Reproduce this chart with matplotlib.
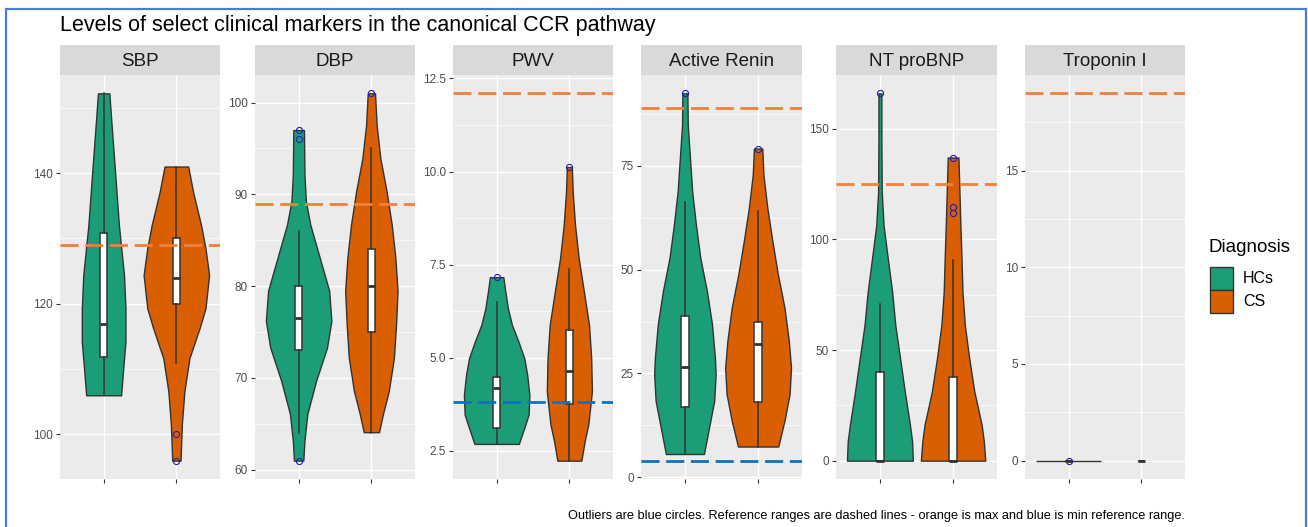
import matplotlib
matplotlib.use("Agg")
import matplotlib.pyplot as plt
from matplotlib.patches import Rectangle
from matplotlib.ticker import MultipleLocator
import numpy as np

plt.rcParams['font.family'] = ['Liberation Sans', 'DejaVu Sans']

title = "Levels of select clinical markers in the canonical CCR pathway"
caption = ("Outliers are blue circles. Reference ranges are dashed lines - "
           "orange is max and blue is min reference range.")
markers = ["SBP", "DBP", "PWV", "Active Renin", "NT proBNP", "Troponin I"]
groups = ["HCs", "CS"]
group_colors = ["#1B9E77", "#D95F02"]

# violin outlines: value, half width (in x units)
sbp_hc_y = [152.2, 147.3, 139.7, 132.0, 124.4, 119.3, 114.2, 110.2, 106.0]
sbp_hc_w = [0.078, 0.11, 0.16, 0.21, 0.28, 0.30, 0.30, 0.27, 0.24]
sbp_cs_y = [141.0, 137.1, 132.0, 128.5, 124.4, 119.3, 116.3, 111.7, 106.6, 101.5, 96.0]
sbp_cs_w = [0.163, 0.23, 0.34, 0.40, 0.45, 0.40, 0.32, 0.18, 0.11, 0.075, 0.057]

dbp_hc_y = [97.0, 92.1, 89.2, 86.7, 83.1, 79.5, 76.2, 73.3, 69.7, 66.1, 63.2, 61.0]
dbp_hc_w = [0.073, 0.08, 0.10, 0.16, 0.29, 0.42, 0.45, 0.39, 0.24, 0.12, 0.08, 0.064]
dbp_cs_y = [101.0, 97.5, 93.9, 90.3, 86.7, 83.1, 79.5, 75.9, 72.2, 68.6, 66.1, 64.1]
dbp_cs_w = [0.05, 0.073, 0.124, 0.21, 0.28, 0.33, 0.36, 0.34, 0.31, 0.24, 0.16, 0.105]

pwv_hc_y = [7.16, 6.77, 6.33, 5.88, 5.43, 4.98, 4.54, 4.00, 3.47, 3.11, 2.68]
pwv_hc_w = [0.092, 0.12, 0.154, 0.21, 0.30, 0.38, 0.42, 0.45, 0.44, 0.38, 0.305]
pwv_cs_y = [10.12, 9.45, 8.56, 7.67, 6.77, 5.88, 4.99, 4.09, 3.20, 2.75, 2.23]
pwv_cs_w = [0.034, 0.046, 0.078, 0.128, 0.20, 0.27, 0.30, 0.31, 0.26, 0.21, 0.165]

renin_hc_y = [92.5, 84.9, 76.9, 68.9, 60.9, 52.9, 44.9, 36.9, 28.8, 24.8, 18.4, 12.0, 5.6]
renin_hc_w = [0.034, 0.039, 0.069, 0.099, 0.15, 0.21, 0.30, 0.37, 0.41, 0.42, 0.40, 0.33, 0.26]
renin_cs_y = [79.2, 72.9, 64.9, 56.9, 48.9, 40.9, 32.8, 26.4, 20.0, 13.6, 7.4]
renin_cs_w = [0.057, 0.073, 0.126, 0.195, 0.27, 0.36, 0.42, 0.45, 0.43, 0.36, 0.275]

bnp_hc_y = [166.0, 143.8, 121.3, 106.3, 91.3, 76.3, 61.3, 46.3, 31.2, 16.2, 8.7, 0.0]
bnp_hc_w = [0.02, 0.02, 0.025, 0.05, 0.108, 0.167, 0.21, 0.275, 0.34, 0.41, 0.44, 0.45]
bnp_cs_y = [137.0, 121.3, 106.3, 91.3, 76.3, 61.3, 46.3, 31.2, 16.2, 8.7, 0.0]
bnp_cs_w = [0.073, 0.087, 0.10, 0.115, 0.128, 0.16, 0.22, 0.29, 0.39, 0.42, 0.44]

trop_hc_y = [0.0, 0.0]
trop_hc_w = [0.45, 0.45]
trop_cs_y = []
trop_cs_w = []

# box stats per group: q1, median, q3, lower whisker, upper whisker
sbp_box = [[111.9, 116.9, 130.9, 106.0, 152.2], [120.0, 124.0, 130.1, 111.0, 141.0]]
dbp_box = [[73.0, 76.5, 80.0, 64.0, 86.0], [75.0, 80.0, 84.0, 64.0, 95.0]]
pwv_box = [[3.12, 4.18, 4.49, 2.68, 6.5], [3.75, 4.64, 5.74, 2.23, 7.37]]
renin_box = [[17.0, 26.6, 38.8, 5.6, 66.3], [18.2, 32.2, 37.3, 7.4, 64.2]]
bnp_box = [[0.0, 0.0, 40.0, 0.0, 70.7], [0.0, 0.0, 37.7, 0.0, 90.5]]
trop_box = [[0.0, 0.0, 0.0, 0.0, 0.0], [0.0, 0.0, 0.0, 0.0, 0.0]]

# outliers per group
sbp_out = [[], [100.0, 96.0]]
dbp_out = [[97.0, 96.0, 61.0], [101.0]]
pwv_out = [[7.17], [10.12]]
renin_out = [[92.5], [79.2]]
bnp_out = [[166.0], [137.0, 114.5, 112.0]]
trop_out = [[0.0], []]

# reference ranges
ref_max = [129, 89, 12.1, 89, 125, 19]
ref_min = [None, None, 3.8, 4, None, None]
tick_step = [20, 10, 2.5, 25, 50, 5]

violin_y = [(sbp_hc_y, sbp_cs_y), (dbp_hc_y, dbp_cs_y), (pwv_hc_y, pwv_cs_y),
            (renin_hc_y, renin_cs_y), (bnp_hc_y, bnp_cs_y), (trop_hc_y, trop_cs_y)]
violin_w = [(sbp_hc_w, sbp_cs_w), (dbp_hc_w, dbp_cs_w), (pwv_hc_w, pwv_cs_w),
            (renin_hc_w, renin_cs_w), (bnp_hc_w, bnp_cs_w), (trop_hc_w, trop_cs_w)]
boxes = [sbp_box, dbp_box, pwv_box, renin_box, bnp_box, trop_box]
outliers = [sbp_out, dbp_out, pwv_out, renin_out, bnp_out, trop_out]

W, H = 1308, 527
fig = plt.figure(figsize=(W / 100, H / 100), dpi=100)

left = [60, 255, 453, 641, 836, 1025]
right = [220, 415, 613, 802, 997, 1185]
top, bottom, strip_top = 75, 479, 45
dark = "#333333"

for i, name in enumerate(markers):
    ax = fig.add_axes([left[i] / W, 1 - bottom / H, (right[i] - left[i]) / W, (bottom - top) / H])
    ax.set_facecolor("#EBEBEB")
    for s in ax.spines.values():
        s.set_visible(False)

    vals = []
    for g in range(2):
        ys = np.array(violin_y[i][g])
        ws = np.array(violin_w[i][g])
        pos = g + 1
        if len(ys):
            ax.fill_betweenx(ys, pos - ws, pos + ws, facecolor=group_colors[g],
                             edgecolor=dark, linewidth=1.0, zorder=2)
            vals.extend(ys)
        vals.extend(boxes[i][g])
        vals.extend(outliers[i][g])

    stats = []
    for g in range(2):
        q1, med, q3, lo, hi = boxes[i][g]
        stats.append(dict(q1=q1, med=med, q3=q3, whislo=lo, whishi=hi, fliers=outliers[i][g]))
    ax.bxp(stats, positions=[1, 2], widths=0.1, patch_artist=True, showcaps=False,
           boxprops=dict(facecolor="white", edgecolor=dark, linewidth=1.1),
           whiskerprops=dict(color=dark, linewidth=1.1),
           medianprops=dict(color=dark, linewidth=2.0, solid_capstyle="butt"),
           flierprops=dict(marker="o", markerfacecolor="none", markeredgecolor="#1F1FB8",
                           markersize=4.4, markeredgewidth=0.8),
           manage_ticks=False, zorder=3)

    ax.axhline(ref_max[i], color="#F0803C", linewidth=2.0, dashes=(6.5, 2.4), zorder=5)
    vals.append(ref_max[i])
    if ref_min[i] is not None:
        ax.axhline(ref_min[i], color="#0E72BD", linewidth=2.0, dashes=(6.5, 2.4), zorder=5)
        vals.append(ref_min[i])

    lo, hi = min(vals), max(vals)
    pad = (hi - lo) * 0.05
    ax.set_ylim(lo - pad, hi + pad)
    ax.set_xlim(0.4, 2.6)

    ax.yaxis.set_major_locator(MultipleLocator(tick_step[i]))
    ax.yaxis.set_minor_locator(MultipleLocator(tick_step[i] / 2))
    ax.set_xticks([1, 2])
    ax.set_xticklabels(["", ""])
    ax.grid(which="major", color="white", linewidth=1.0, zorder=0)
    ax.grid(which="minor", axis="y", color="white", linewidth=0.5, zorder=0)
    ax.set_axisbelow(True)
    ax.tick_params(axis="both", which="major", length=3, width=0.8, color=dark,
                   labelsize=8.5, labelcolor="#4D4D4D", pad=2)
    ax.tick_params(axis="y", which="minor", length=0)
    if i == 2:
        ax.yaxis.set_major_formatter(matplotlib.ticker.FormatStrFormatter("%.1f"))

    sax = fig.add_axes([left[i] / W, 1 - top / H, (right[i] - left[i]) / W, (top - strip_top) / H])
    sax.set_facecolor("#D9D9D9")
    sax.set_xticks([])
    sax.set_yticks([])
    for s in sax.spines.values():
        s.set_visible(False)
    sax.text(0.5, 0.45, name, ha="center", va="center", fontsize=13.5, color="#1A1A1A",
             transform=sax.transAxes)

fig.text(60 / W, 1 - 25 / H, title, ha="left", va="center", fontsize=15.5, color="black")
fig.text(1185 / W, 1 - 516 / H, caption, ha="right", va="center", fontsize=9.15, color="black")

# legend drawn by hand so the keys sit where ggplot puts them
fig.text(1209 / W, 1 - 248 / H, "Diagnosis", ha="left", va="center", fontsize=13.5)
for g, label in enumerate(groups):
    y_top = 267 + g * 23
    fig.patches.append(Rectangle((1210 / W, 1 - (y_top + 23) / H), 23 / W, 23 / H,
                                 transform=fig.transFigure, facecolor=group_colors[g],
                                 edgecolor=dark, linewidth=1.0))
    fig.text(1243 / W, 1 - (y_top + 11.5) / H, label, ha="left", va="center", fontsize=11.5)

border = Rectangle((6 / W, -0.05), 1300 / W, 1 - 9 / H + 0.05, transform=fig.transFigure,
                   fill=False, edgecolor="#4A7CCF", linewidth=1.6, clip_on=False)
fig.patches.append(border)

fig.savefig("out.png", dpi=100)
